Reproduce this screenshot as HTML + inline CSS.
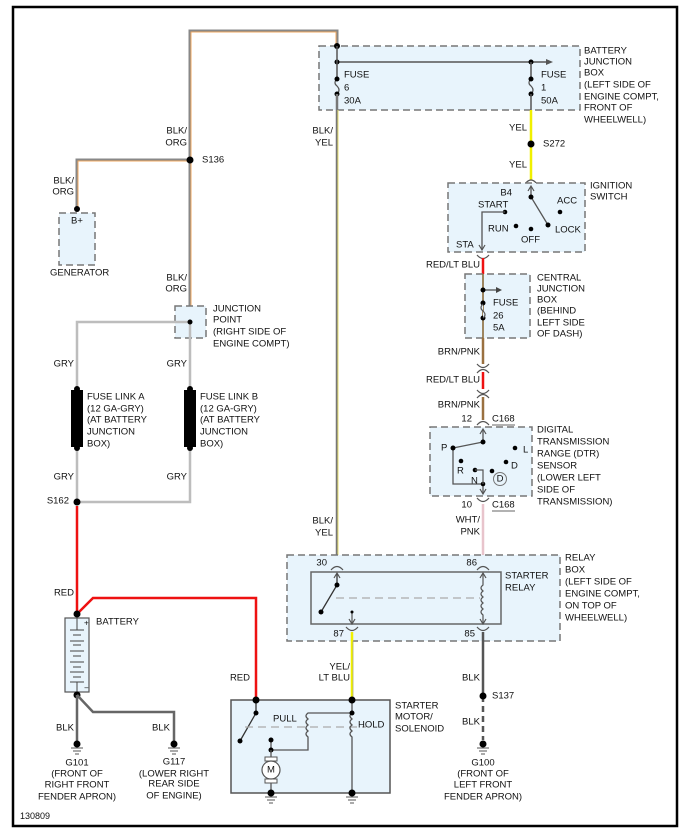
<!DOCTYPE html>
<html><head><meta charset="utf-8"><style>
html,body{margin:0;padding:0;background:#fff;}
svg{display:block;}
text{font-family:"Liberation Sans",sans-serif;font-size:9.5px;fill:#111;dominant-baseline:central;}
.box{fill:#e8f4fc;stroke:#777;stroke-width:1.5;stroke-dasharray:7,4;}
.dot{fill:#000;}
.gry{fill:none;stroke:#bdbdbd;stroke-width:2.5;}
.red{fill:none;stroke:#ee1111;stroke-width:2.5;}
.yel{fill:none;stroke:#f0f000;stroke-width:2.5;}
.conn{fill:none;stroke:#555;stroke-width:1.2;}
.mid{text-anchor:middle;}
.end{text-anchor:end;}
</style></head><body>
<svg width="688" height="834" viewBox="0 0 688 834" xmlns="http://www.w3.org/2000/svg">
<rect x="13" y="7" width="664" height="819" fill="#fff" stroke="#000" stroke-width="2.5"/>

<path d="M190 160 V31 H337 V45" fill="none" stroke="#888" stroke-width="3"/>
<path d="M191 160 V32 H336 V45" fill="none" stroke="#f0a860" stroke-width="1"/>
<path d="M190 160 V322" fill="none" stroke="#888" stroke-width="3"/>
<path d="M191 160 V322" fill="none" stroke="#f0a860" stroke-width="1"/>
<path d="M77 209 V160 H190" fill="none" stroke="#888" stroke-width="3"/>
<path d="M78 209 V161 H190" fill="none" stroke="#f0a860" stroke-width="1"/>

<rect class="box" x="319" y="46" width="261" height="64"/>
<circle class="dot" cx="337" cy="46" r="3"/>
<path d="M337 62 H548" stroke="#555" stroke-width="1.5"/>
<path d="M546 59 L553 62 L546 65Z" fill="#555"/>
<circle class="dot" cx="337" cy="62" r="2.5"/><circle class="dot" cx="531" cy="62" r="2.5"/>
<path d="M337 46 V79" stroke="#555" stroke-width="1.5"/>
<path d="M337 79 q-4 4 0 7 q4 4 0 8" fill="none" stroke="#555" stroke-width="1.2"/>
<circle class="dot" cx="337" cy="79" r="2.5"/><circle class="dot" cx="337" cy="94" r="2.5"/>
<path d="M531 62 V79" stroke="#555" stroke-width="1.5"/>
<path d="M531 79 q-4 4 0 7 q4 4 0 8" fill="none" stroke="#555" stroke-width="1.2"/>
<circle class="dot" cx="531" cy="79" r="2.5"/><circle class="dot" cx="531" cy="94" r="2.5"/>
<path d="M531 94 V110" stroke="#555" stroke-width="1.5"/>
<text x="344" y="75">FUSE</text><text x="344" y="88">6</text><text x="344" y="101">30A</text>
<text x="541" y="75">FUSE</text><text x="541" y="88">1</text><text x="541" y="101">50A</text>
<text x="584" y="51">BATTERY</text><text x="584" y="62">JUNCTION</text><text x="584" y="73">BOX</text>
<text x="584" y="85">(LEFT SIDE OF</text><text x="584" y="97">ENGINE COMPT,</text><text x="584" y="108">FRONT OF</text><text x="584" y="120">WHEELWELL)</text>

<path d="M337 94 V568" stroke="#777" stroke-width="2.5"/>
<path d="M338 110 V562" stroke="#e8e070" stroke-width="1"/>
<text x="333" y="131" class="end">BLK/</text><text x="333" y="143" class="end">YEL</text>
<text x="333" y="521" class="end">BLK/</text><text x="333" y="533" class="end">YEL</text>

<path class="yel" d="M531 110 V180"/>
<circle class="dot" cx="531" cy="144" r="3.5"/>
<text x="527" y="128" class="end">YEL</text><text x="527" y="165" class="end">YEL</text>
<text x="543" y="144">S272</text>
<path class="conn" d="M525 184 Q531 176 537 184"/>

<rect class="box" x="448" y="183" width="137" height="69"/>
<path d="M531 187 V197 L548 225" fill="none" stroke="#555" stroke-width="1.3"/>
<path d="M528 191 L531 186 L534 191" fill="none" stroke="#555" stroke-width="1.2"/>
<circle class="dot" cx="531" cy="197" r="2.5"/><circle class="dot" cx="548" cy="225" r="2.5"/>
<circle class="dot" cx="560" cy="212" r="2.3"/><circle class="dot" cx="505" cy="212" r="2.3"/>
<circle class="dot" cx="516" cy="226" r="2.3"/><circle class="dot" cx="531" cy="229" r="2.3"/>
<path d="M505 212 H482 V250" fill="none" stroke="#555" stroke-width="1.3"/>
<path d="M479 245 L482 250 L485 245" fill="none" stroke="#555" stroke-width="1.2"/>
<text x="512" y="193" class="end">B4</text>
<text x="478" y="205">START</text><text x="488" y="229">RUN</text><text x="521" y="240">OFF</text>
<text x="557" y="201">ACC</text><text x="555" y="230">LOCK</text><text x="456" y="245">STA</text>
<text x="590" y="186">IGNITION</text><text x="590" y="197">SWITCH</text>
<path class="conn" d="M477 255 Q483 262 489 255"/>

<path class="red" d="M483 258 V275"/>
<text x="480" y="265" class="end">RED/LT BLU</text>
<rect class="box" x="465" y="274" width="65" height="64"/>
<path d="M483 274 V338" stroke="#8a6a3a" stroke-width="1.6"/>
<path d="M483 290 H497" stroke="#444" stroke-width="1.2"/><path d="M496 287 L502 290 L496 293Z" fill="#444"/>
<circle class="dot" cx="483" cy="290" r="2.5"/><circle class="dot" cx="483" cy="303" r="2.5"/><circle class="dot" cx="483" cy="318" r="2.5"/>
<path d="M483 304 q-4 4 0 7 q4 4 0 7" fill="#e8f4fc" stroke="#555" stroke-width="1.2"/>
<text x="493" y="303">FUSE</text><text x="493" y="316">26</text><text x="493" y="328">5A</text>
<text x="537" y="278">CENTRAL</text><text x="537" y="289">JUNCTION</text><text x="537" y="300">BOX</text>
<text x="537" y="311">(BEHIND</text><text x="537" y="323">LEFT SIDE</text><text x="537" y="334">OF DASH)</text>

<path d="M483 338 V364" stroke="#9a7040" stroke-width="2.5"/>
<text x="480" y="352" class="end">BRN/PNK</text>
<path class="conn" d="M477 364 Q483 371 489 364"/><path class="conn" d="M477 373 Q483 366 489 373"/>
<path class="red" d="M483 372 V389"/>
<text x="480" y="380" class="end">RED/LT BLU</text>
<path class="conn" d="M477 390 Q483 397 489 390"/><path class="conn" d="M477 398 Q483 391 489 398"/>
<path d="M483 397 V420" stroke="#9a7040" stroke-width="2.5"/>
<text x="480" y="405" class="end">BRN/PNK</text>
<path class="conn" d="M477 425 Q483 418 489 425"/>
<text x="472" y="419" class="end">12</text><text x="492" y="419">C168</text>
<path d="M492 425 H515" stroke="#333" stroke-width="0.8"/>

<rect class="box" x="430" y="427" width="102" height="69"/>
<path d="M483 430 V442 L453 448 V484 H483 V494" fill="none" stroke="#555" stroke-width="1.3"/>
<path d="M480 434 L483 429 L486 434" fill="none" stroke="#555" stroke-width="1.2"/>
<path d="M480 489 L483 494 L486 489" fill="none" stroke="#555" stroke-width="1.2"/>
<circle class="dot" cx="483" cy="442" r="2.5"/><circle class="dot" cx="453" cy="448" r="2.5"/>
<circle class="dot" cx="515" cy="448" r="2.3"/><circle class="dot" cx="461" cy="461" r="2.3"/>
<circle class="dot" cx="506" cy="462" r="2.3"/><circle class="dot" cx="475" cy="470" r="2.3"/>
<circle class="dot" cx="492" cy="471" r="2.3"/><circle class="dot" cx="483" cy="484" r="2.3"/>
<path d="M475 470 H483 V484" fill="none" stroke="#555" stroke-width="1.2"/>
<circle cx="500" cy="479" r="6.5" fill="none" stroke="#777" stroke-width="1"/>
<text x="500" y="479" class="mid">D</text>
<text x="441" y="448">P</text><text x="523" y="450">L</text><text x="457" y="471">R</text>
<text x="511" y="466">D</text><text x="471" y="481">N</text>
<text x="537" y="430">DIGITAL</text><text x="537" y="442">TRANSMISSION</text><text x="537" y="454">RANGE (DTR)</text>
<text x="537" y="466">SENSOR</text><text x="537" y="478">(LOWER LEFT</text><text x="537" y="490">SIDE OF</text><text x="537" y="502">TRANSMISSION)</text>
<path class="conn" d="M477 498 Q483 505 489 498"/>
<text x="472" y="505" class="end">10</text><text x="492" y="505">C168</text>
<path d="M492 511 H515" stroke="#333" stroke-width="0.8"/>
<path d="M483 504 V562" stroke="#e8c4cc" stroke-width="2.5"/>
<text x="480" y="520" class="end">WHT/</text><text x="480" y="532" class="end">PNK</text>

<rect class="box" x="287" y="555" width="273" height="86"/>
<rect x="311" y="572" width="190" height="52" fill="#e8f4fc" stroke="#666" stroke-width="1.5"/>
<path class="conn" d="M331 570 Q337 563 343 570"/><path class="conn" d="M477 570 Q483 563 489 570"/>
<path class="conn" d="M346 627 Q352 634 358 627"/><path class="conn" d="M477 627 Q483 634 489 627"/>
<path d="M337 574 V585 L321 612" fill="none" stroke="#333" stroke-width="1.3"/>
<path d="M334 578 L337 573 L340 578" fill="none" stroke="#555" stroke-width="1.2"/>
<circle class="dot" cx="337" cy="585" r="2.5"/><circle class="dot" cx="321" cy="612" r="2.5"/>
<path d="M336 598 H480" stroke="#aaa" stroke-width="1.2" stroke-dasharray="8,5"/>
<path d="M352 612 V624 M349 619 L352 624 L355 619" fill="none" stroke="#555" stroke-width="1.2"/>
<circle class="dot" cx="352" cy="612" r="1.5"/>
<path d="M483 574 V585 q-4 3 0 6 q-4 3 0 6 q-4 3 0 6 q-4 3 0 6 q-4 3 0 6 V623" fill="none" stroke="#555" stroke-width="1.2"/>
<path d="M480 578 L483 573 L486 578 M480 619 L483 624 L486 619" fill="none" stroke="#555" stroke-width="1.2"/>
<text x="327" y="563" class="end">30</text><text x="477" y="563" class="end">86</text>
<text x="344" y="634" class="end">87</text><text x="475" y="634" class="end">85</text>
<text x="505" y="576">STARTER</text><text x="505" y="588">RELAY</text>
<text x="565" y="558">RELAY</text><text x="565" y="570">BOX</text><text x="565" y="582">(LEFT SIDE OF</text>
<text x="565" y="594">ENGINE COMPT,</text><text x="565" y="606">ON TOP OF</text><text x="565" y="618">WHEELWELL)</text>

<path class="yel" d="M352 632 V700"/>
<path d="M353 641 V700" stroke="#999" stroke-width="0.6"/>
<text x="350" y="667" class="end">YEL/</text><text x="350" y="678" class="end">LT BLU</text>
<path d="M483 632 V696" stroke="#555" stroke-width="2.5"/>
<path d="M483 696 V740" stroke="#555" stroke-width="2.5" stroke-dasharray="6,4"/>
<circle class="dot" cx="483" cy="696" r="3.5"/>
<text x="480" y="678" class="end">BLK</text><text x="480" y="722" class="end">BLK</text>
<text x="492" y="696">S137</text>

<g fill="none" stroke="#555" stroke-width="1">
<path d="M477 748 H489 M479 751 H487 M481 754 H485"/>
<path d="M71 748 H83 M73 751 H81 M75 754 H79"/>
<path d="M168 748 H180 M170 751 H178 M172 754 H176"/>
<path d="M265 797 H277 M267 800 H275 M269 803 H273"/>
<path d="M346 797 H358 M348 800 H356 M350 803 H354"/>
</g>
<circle class="dot" cx="483" cy="744" r="3.5"/>
<text x="483" y="763" class="mid">G100</text><text x="483" y="774" class="mid">(FRONT OF</text>
<text x="483" y="785" class="mid">LEFT FRONT</text><text x="483" y="797" class="mid">FENDER APRON)</text>

<rect x="231" y="700" width="159" height="93" fill="#e8f4fc" stroke="#555" stroke-width="1.5"/>
<path d="M256 700 V713 L240 741" fill="none" stroke="#333" stroke-width="1.3"/>
<circle class="dot" cx="256" cy="713" r="2.5"/><circle class="dot" cx="240" cy="741" r="2.5"/>
<path d="M245 727 H366" stroke="#aaa" stroke-width="1.2" stroke-dasharray="8,5"/>
<path d="M352 713 H308 q-4 3 0 6 q-4 3 0 6 q-4 3 0 6 q-4 3 0 6 V750 H271 V740" fill="none" stroke="#555" stroke-width="1.3"/>
<path d="M352 700 V713 q-4 3 0 6 q-4 3 0 6 q-4 3 0 6 q-4 3 0 6 V793" fill="none" stroke="#555" stroke-width="1.3"/>
<circle class="dot" cx="352" cy="700" r="3.5"/><circle class="dot" cx="352" cy="713" r="2.5"/>
<circle class="dot" cx="271" cy="740" r="2.5"/><circle class="dot" cx="271" cy="750" r="2.5"/>
<path d="M271 750 V760 M271 780 V793" stroke="#555" stroke-width="1.3"/>
<rect x="265" y="757" width="12" height="4" fill="#fff" stroke="#555" stroke-width="1"/>
<rect x="265" y="779" width="12" height="4" fill="#fff" stroke="#555" stroke-width="1"/>
<circle cx="271" cy="770" r="9" fill="#fff" stroke="#555" stroke-width="1.2"/>
<text x="271" y="770" class="mid">M</text>
<circle class="dot" cx="271" cy="793" r="3.5"/><circle class="dot" cx="352" cy="793" r="3.5"/>
<text x="273" y="719">PULL</text><text x="358" y="725">HOLD</text>
<text x="395" y="706">STARTER</text><text x="395" y="717">MOTOR/</text><text x="395" y="729">SOLENOID</text>

<rect class="box" x="59" y="213" width="36" height="52"/>
<circle class="dot" cx="77" cy="209" r="3"/>
<text x="77" y="221" class="mid">B+</text>
<text x="50" y="273">GENERATOR</text>
<circle class="dot" cx="190" cy="160" r="3.5"/>
<text x="202" y="160">S136</text>
<text x="187" y="131" class="end">BLK/</text><text x="187" y="143" class="end">ORG</text>
<text x="74" y="181" class="end">BLK/</text><text x="74" y="192" class="end">ORG</text>
<text x="187" y="278" class="end">BLK/</text><text x="187" y="289" class="end">ORG</text>

<rect class="box" x="175" y="306" width="31" height="32"/>
<path class="gry" d="M77 388 V322 H190 V388"/>
<circle class="dot" cx="190" cy="322" r="2.5"/>
<path class="gry" d="M77 449 V502 H190 V449"/>
<rect x="71" y="390" width="12" height="57" fill="#000"/>
<rect x="184" y="390" width="12" height="57" fill="#000"/>
<circle class="dot" cx="77" cy="389" r="3"/><circle class="dot" cx="77" cy="448" r="3"/>
<circle class="dot" cx="190" cy="389" r="3"/><circle class="dot" cx="190" cy="448" r="3"/>
<circle class="dot" cx="77" cy="502" r="3.5"/>
<text x="213" y="309">JUNCTION</text><text x="213" y="320">POINT</text>
<text x="213" y="332">(RIGHT SIDE OF</text><text x="213" y="344">ENGINE COMPT)</text>
<text x="74" y="364" class="end">GRY</text><text x="187" y="364" class="end">GRY</text>
<text x="74" y="477" class="end">GRY</text><text x="187" y="477" class="end">GRY</text>
<text x="69" y="501" class="end">S162</text>
<text x="87" y="397">FUSE LINK A</text><text x="87" y="409">(12 GA-GRY)</text><text x="87" y="420">(AT BATTERY</text><text x="87" y="432">JUNCTION</text><text x="87" y="444">BOX)</text>
<text x="200" y="397">FUSE LINK B</text><text x="200" y="409">(12 GA-GRY)</text><text x="200" y="420">(AT BATTERY</text><text x="200" y="432">JUNCTION</text><text x="200" y="444">BOX)</text>

<path class="red" d="M77 506 V614 L93 598 H256 V700"/>
<text x="74" y="593" class="end">RED</text>
<text x="250" y="678" class="end">RED</text>
<circle class="dot" cx="256" cy="700" r="3.5"/>
<rect x="65" y="618" width="24" height="74" fill="#e8f4fc" stroke="#555" stroke-width="1.2"/>
<circle class="dot" cx="77" cy="614" r="3.5"/>
<text x="84" y="623" style="font-size:8px">+</text>
<text x="84" y="688" style="font-size:8px">−</text>
<g stroke="#444" stroke-width="1">
<path d="M77 618 V630 M77 682 V692"/>
<path d="M70 630 H84 M73 635 H81 M70 641 H84 M73 645 H81 M70 651 H84 M73 656 H81 M70 662 H84 M73 667 H81 M70 672 H84 M73 677 H81 M70 682 H84"/>
</g>
<text x="96" y="622">BATTERY</text>
<circle class="dot" cx="77" cy="695" r="3.5"/>
<path d="M77 695 V742 M77 695 L93 712 H174 V742" fill="none" stroke="#666" stroke-width="2.5"/>
<circle class="dot" cx="77" cy="744" r="3.5"/><circle class="dot" cx="174" cy="744" r="3.5"/>
<text x="74" y="728" class="end">BLK</text><text x="170" y="728" class="end">BLK</text>
<text x="77" y="763" class="mid">G101</text><text x="77" y="774" class="mid">(FRONT OF</text>
<text x="77" y="785" class="mid">RIGHT FRONT</text><text x="77" y="797" class="mid">FENDER APRON)</text>
<text x="174" y="762" class="mid">G117</text><text x="174" y="774" class="mid">(LOWER RIGHT</text>
<text x="174" y="784" class="mid">REAR SIDE</text><text x="174" y="796" class="mid">OF ENGINE)</text>
<text x="20" y="816" style="font-size:9px">130809</text>
</svg>
</body></html>
